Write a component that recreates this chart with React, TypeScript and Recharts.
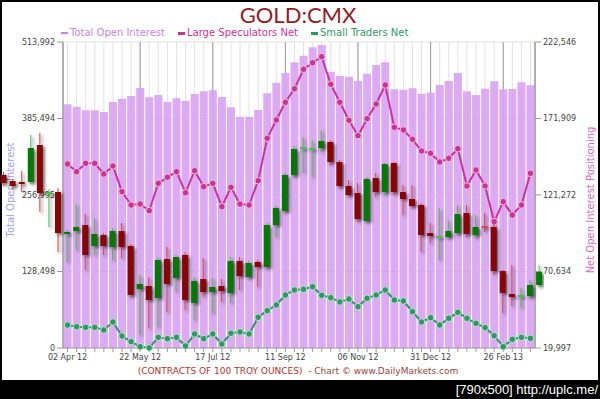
import React from 'react';
import { ComposedChart, Bar, Line, XAxis, YAxis, CartesianGrid, Legend } from 'recharts';

const weeks = [
  '27 Mar 12', '03 Apr 12', '10 Apr 12', '17 Apr 12', '24 Apr 12', '01 May 12', '08 May 12', '15 May 12',
  '22 May 12', '29 May 12', '05 Jun 12', '12 Jun 12', '19 Jun 12', '26 Jun 12', '03 Jul 12', '10 Jul 12',
  '17 Jul 12', '24 Jul 12', '31 Jul 12', '07 Aug 12', '14 Aug 12', '21 Aug 12', '28 Aug 12', '04 Sep 12',
  '11 Sep 12', '18 Sep 12', '25 Sep 12', '02 Oct 12', '09 Oct 12', '16 Oct 12', '23 Oct 12', '30 Oct 12',
  '06 Nov 12', '13 Nov 12', '20 Nov 12', '27 Nov 12', '04 Dec 12', '11 Dec 12', '18 Dec 12', '24 Dec 12',
  '31 Dec 12', '08 Jan 13', '15 Jan 13', '22 Jan 13', '29 Jan 13', '05 Feb 13', '12 Feb 13', '19 Feb 13',
  '26 Feb 13', '05 Mar 13', '12 Mar 13', '19 Mar 13',
];
const tickWeeks = ['27 Mar 12', '22 May 12', '17 Jul 12', '11 Sep 12', '06 Nov 12', '31 Dec 12', '26 Feb 13'];
const tickLabels = ['02 Apr 12', '22 May 12', '17 Jul 12', '11 Sep 12', '06 Nov 12', '31 Dec 12', '26 Feb 13'];

const openInterest = [
  409300, 405300, 399300, 399300, 396400, 413200, 418800, 423300, 436700, 421100,
  425000, 413200, 419400, 414900, 426600, 431200, 432900, 421600, 404300, 388500,
  388500, 399800, 427800, 445600, 461900, 479900, 491000, 505000, 509000, 463600,
  456900, 455700, 448500, 460700, 475400, 479900, 434500, 433900, 436200, 427200,
  428800, 441800, 448500, 461900, 431200, 425000, 435600, 448000, 434500, 435000,
  446300, 441300,
];
const largeSpecNet = [
  141800, 136700, 142250, 142250, 135170, 140470, 123460, 114650, 115310, 110880,
  129010, 132990, 136700, 122790, 137350, 126770, 129010, 113530, 126370, 115310,
  114650, 130740, 158800, 170910, 182630, 191630, 204470, 208840, 212810, 194550,
  182630, 170710, 160520, 171770, 181500, 194080, 166080, 164290, 158140, 150390,
  148870, 143110, 145560, 151920, 127230, 137820, 127230, 103600, 116840, 108030,
  114650, 135630,
];
const smallTradersNet = [
  35220, 34100, 33700, 33700, 31910, 37210, 27940, 24170, 20860, 20100,
  27080, 26160, 27080, 21320, 29270, 26160, 29270, 22650, 29730, 30590,
  29270, 40320, 44690, 48460, 55080, 58390, 58850, 60580, 54880, 53290,
  50450, 52430, 47340, 52900, 55080, 58390, 51770, 51110, 44030, 37210,
  40060, 35220, 39660, 43630, 39660, 36350, 33440, 28140, 20860, 25760,
  27080, 26420,
];
const leftTicks = [0, 128498, 256995, 385494, 513992];
const rightTicks = [19997, 70634, 121272, 171909, 222546];
const seriesNames = ['Total Open Interest', 'Large Speculators Net', 'Small Traders Net'];

// weekly gold price candles (7 weeks before the first report week, 1 after the last)
const candleWeeks = [
  '07 Feb 12', '14 Feb 12', '21 Feb 12', '28 Feb 12', '06 Mar 12', '13 Mar 12', '20 Mar 12',
  ...weeks,
  '26 Mar 13',
];
const candleOpen = [
  1737.5, 1729.2, 1727.9, 1727.9, 1778.6, 1712.7, 1714.1,
  1656.5, 1660.6, 1668.8, 1640.0, 1655.1, 1638.6, 1660.6, 1640.0, 1581.0, 1585.1,
  1568.6, 1622.2, 1596.1, 1627.7, 1561.8, 1594.7, 1576.9, 1585.1, 1575.5, 1619.4,
  1597.4, 1618.1, 1611.2, 1668.8, 1688.0, 1737.5, 1774.5, 1773.1, 1774.5, 1782.7,
  1755.3, 1722.4, 1712.7, 1674.3, 1733.3, 1714.1, 1753.9, 1714.1, 1704.5, 1696.3,
  1657.8, 1652.3, 1652.3, 1657.8, 1685.3, 1655.1, 1667.5, 1666.1, 1605.7, 1574.1,
  1572.1, 1571.4, 1586.5,
];
const candleHigh = [
  1741.6, 1732.0, 1742.9, 1792.4, 1795.1, 1718.2, 1719.6,
  1661.9, 1697.7, 1683.9, 1678.4, 1657.8, 1664.7, 1671.6, 1642.7, 1600.2, 1597.4,
  1624.9, 1638.6, 1627.7, 1631.7, 1597.4, 1623.6, 1596.1, 1594.7, 1624.9, 1624.9,
  1619.4, 1620.8, 1671.6, 1694.9, 1740.2, 1777.2, 1789.6, 1785.5, 1799.2, 1785.5,
  1758.0, 1730.6, 1726.5, 1734.7, 1740.2, 1753.9, 1755.3, 1723.7, 1723.7, 1699.0,
  1671.6, 1692.2, 1675.7, 1696.3, 1696.3, 1682.6, 1685.3, 1673.0, 1607.1, 1614.0,
  1582.4, 1593.3, 1614.0,
];
const candleLow = [
  1722.4, 1718.2, 1714.1, 1725.1, 1686.7, 1666.1, 1631.7,
  1618.1, 1634.5, 1607.1, 1627.7, 1627.7, 1620.8, 1623.6, 1570.0, 1517.8, 1527.5,
  1528.8, 1549.5, 1576.9, 1552.2, 1538.5, 1570.0, 1548.1, 1563.2, 1561.8, 1579.6,
  1596.1, 1583.7, 1609.8, 1652.3, 1686.7, 1734.7, 1740.2, 1734.7, 1769.0, 1751.2,
  1719.6, 1708.6, 1673.0, 1673.0, 1707.3, 1710.0, 1710.0, 1682.6, 1693.5, 1631.7,
  1644.1, 1620.8, 1651.0, 1655.1, 1652.3, 1651.0, 1659.2, 1600.2, 1548.1, 1557.7,
  1554.9, 1568.6, 1583.7,
];
const candleClose = [
  1726.5, 1722.4, 1725.1, 1774.5, 1712.7, 1714.1, 1657.8,
  1659.2, 1666.1, 1627.7, 1656.5, 1640.0, 1660.6, 1638.6, 1572.8, 1587.9, 1565.9,
  1620.8, 1587.9, 1624.9, 1565.9, 1592.0, 1576.9, 1583.7, 1578.2, 1619.4, 1598.8,
  1616.7, 1611.2, 1668.8, 1692.2, 1737.5, 1773.1, 1775.9, 1774.5, 1784.1, 1755.3,
  1722.4, 1710.0, 1677.1, 1732.0, 1714.1, 1752.6, 1714.1, 1704.5, 1694.9, 1655.1,
  1653.7, 1653.7, 1660.6, 1683.9, 1656.5, 1666.1, 1666.1, 1605.7, 1575.5, 1570.0,
  1572.8, 1586.5, 1604.3,
];
const priceDomain = [1500, 1920];

const mainData = weeks.map((w, i) => ({
  week: w,
  oi: openInterest[i],
  ls: largeSpecNet[i],
  st: smallTradersNet[i],
}));
const candleData = candleWeeks.map((w, i) => ({
  week: w,
  open: candleOpen[i],
  high: candleHigh[i],
  low: candleLow[i],
  close: candleClose[i],
}));

const FONT = "'DejaVu Sans', sans-serif";
const BAR_COLOR = '#d8a2f2';
const PINK = '#cc3399';
const GREEN = '#2f9966';

// layout
const CHART_W = 600;
const CHART_H = 399;
const PLOT_L = 63;
const PLOT_R = 535;
const PLOT_T = 42;
const PLOT_B = 348;
const BAND = (PLOT_R - PLOT_L) / weeks.length;
const EXTRA_LEFT = 7;

const fmt = (v: number) => v.toLocaleString('en-US');

const Candle = (props: any) => {
  const { x, y, width, height, payload } = props;
  if (!payload) return null;
  const { open, close, high, low } = payload;
  const top = height >= 0 ? y : y + height;
  const h = Math.abs(height);
  const range = high - low || 1;
  const toY = (v: number) => top + ((high - v) / range) * h;
  const bull = close >= open;
  const doji = Math.abs(close - open) < 2;
  const cx = x + width / 2;
  const bTop = toY(Math.max(open, close));
  const bBot = toY(Math.min(open, close));
  const bodyH = Math.max(bBot - bTop, 2);
  const wick = bull ? '#47c247' : '#dd4444';
  const body = doji ? wick : bull ? '#037a03' : '#8a0404';
  return (
    <g style={{ filter: 'drop-shadow(2px 2px 1.4px rgba(0,0,0,0.55))' }}>
      <line x1={cx} x2={cx} y1={top} y2={top + h} stroke={wick} strokeWidth={1} />
      <rect x={x} y={bTop} width={width} height={bodyH} fill={body} />
    </g>
  );
};

const renderLegend = (props: any) => {
  const payload = [...(props.payload || [])].sort(
    (a: any, b: any) => seriesNames.indexOf(a.value) - seriesNames.indexOf(b.value)
  );
  return (
    <div style={{ display: 'flex', gap: 13, fontFamily: FONT, fontSize: 10, whiteSpace: 'nowrap', lineHeight: '12px' }}>
      {payload.map((e: any) => (
        <span key={e.value} style={{ color: e.type === 'rect' ? '#c884ea' : e.color, display: 'flex', alignItems: 'center' }}>
          <span
            style={{
              display: 'inline-block',
              width: 7,
              height: e.type === 'rect' ? 1.5 : 3,
              background: e.type === 'rect' ? '#c884ea' : e.color,
              marginRight: 2,
            }}
          />
          {e.value}
        </span>
      ))}
    </div>
  );
};

export default function App() {
  const xLabel = (v: string) => {
    const k = tickWeeks.indexOf(v);
    return k >= 0 ? tickLabels[k] : '';
  };
  return (
    <div style={{ position: 'absolute', left: 0, top: 0, width: 600, height: 399, background: '#000', overflow: 'hidden', fontFamily: FONT }}>
      <div style={{ position: 'absolute', left: 2, top: 2, width: 596, height: 378, background: '#fff' }} />

      <div style={{ position: 'absolute', left: 0, top: 3, width: 596, textAlign: 'center', color: '#931c22', fontSize: 22, lineHeight: '23px', fontFamily: "Lato, sans-serif" }}>
        GOLD:CMX
      </div>

      <div style={{ position: 'absolute', left: 0, top: 0 }}>
        <ComposedChart
          width={CHART_W}
          height={CHART_H}
          data={mainData}
          margin={{ top: PLOT_T, right: 10, bottom: CHART_H - PLOT_B - 20, left: 8 }}
          barCategoryGap={0.6}
        >
          <CartesianGrid xAxisId="main" yAxisId="left" stroke="#e2e2e2" />
          <CartesianGrid xAxisId="major" yAxisId="left" horizontal={false} stroke="#9a9a9a" />
          <XAxis
            xAxisId="main"
            dataKey="week"
            interval={0}
            tickSize={4}
            height={20}
            stroke="#9a9a9a"
            tick={{ fontSize: 8, fill: '#444', fontFamily: FONT }}
            tickFormatter={xLabel}
          />
          <XAxis xAxisId="major" dataKey="week" hide ticks={tickWeeks} />
          <YAxis
            yAxisId="left"
            width={55}
            domain={[0, 513992]}
            ticks={leftTicks}
            interval={0}
            tickSize={6}
            stroke="#9a9a9a"
            tick={{ fontSize: 8, fill: '#444', fontFamily: FONT }}
            tickFormatter={fmt}
          />
          <YAxis
            yAxisId="right"
            orientation="right"
            width={55}
            domain={[19997, 222546]}
            ticks={rightTicks}
            interval={0}
            tickSize={6}
            stroke="#9a9a9a"
            tick={{ fontSize: 8, fill: '#444', fontFamily: FONT }}
            tickFormatter={fmt}
          />
          <Bar
            xAxisId="main"
            yAxisId="left"
            dataKey="oi"
            name={seriesNames[0]}
            fill={BAR_COLOR}
            fillOpacity={0.9}
            isAnimationActive={false}
          />
          <Line
            xAxisId="main"
            yAxisId="right"
            dataKey="ls"
            name={seriesNames[1]}
            stroke={PINK}
            strokeWidth={2}
            dot={{ r: 3.3, fill: PINK, stroke: '#f4c0e0', strokeWidth: 1 }}
            isAnimationActive={false}
          />
          <Line
            xAxisId="main"
            yAxisId="right"
            dataKey="st"
            name={seriesNames[2]}
            stroke={GREEN}
            strokeWidth={2}
            dot={{ r: 3.3, fill: GREEN, stroke: '#bfe3cf', strokeWidth: 1 }}
            isAnimationActive={false}
          />
          <Legend
            layout="vertical"
            align="center"
            verticalAlign="middle"
            content={renderLegend}
            wrapperStyle={{ left: 61, top: 27, width: 420, height: 12 }}
          />
        </ComposedChart>
      </div>

      <div style={{ position: 'absolute', left: 9.5, top: 190, transform: 'translate(-50%, -50%) rotate(-90deg)', color: '#a0a0ee', fontSize: 10, whiteSpace: 'nowrap', fontFamily: FONT }}>
        Total Open Interest
      </div>
      <div style={{ position: 'absolute', left: 590, top: 200, transform: 'translate(-50%, -50%) rotate(-90deg)', color: '#e065b0', fontSize: 10, whiteSpace: 'nowrap', fontFamily: FONT }}>
        Net Open Interest Positioning
      </div>

      <div style={{ position: 'absolute', left: PLOT_L - EXTRA_LEFT * BAND, top: PLOT_T }}>
        <ComposedChart
          width={candleWeeks.length * BAND}
          height={PLOT_B - PLOT_T}
          data={candleData}
          margin={{ top: 0, right: 0, bottom: 0, left: 0 }}
          barCategoryGap={1.55}
        >
          <XAxis dataKey="week" hide />
          <YAxis hide domain={priceDomain} />
          <Bar dataKey={(d: any) => [d.low, d.high]} shape={Candle} isAnimationActive={false} />
        </ComposedChart>
      </div>

      <div style={{ position: 'absolute', left: 0, top: 365, width: 596, textAlign: 'center', fontSize: 9, lineHeight: '12px', fontFamily: FONT, whiteSpace: 'pre' }}>
        <span style={{ color: '#b8322a' }}>(CONTRACTS OF 100 TROY OUNCES)</span>
        <span style={{ color: '#a0443a' }}>{'  - Chart \u00a9 www.DailyMarkets.com'}</span>
      </div>

      <div style={{ position: 'absolute', right: 2, top: 382, color: '#fff', fontSize: 13, lineHeight: '16px', fontFamily: "'Liberation Sans', sans-serif", whiteSpace: 'nowrap' }}>
        [790x500] http://uplc.me/
      </div>
    </div>
  );
}
